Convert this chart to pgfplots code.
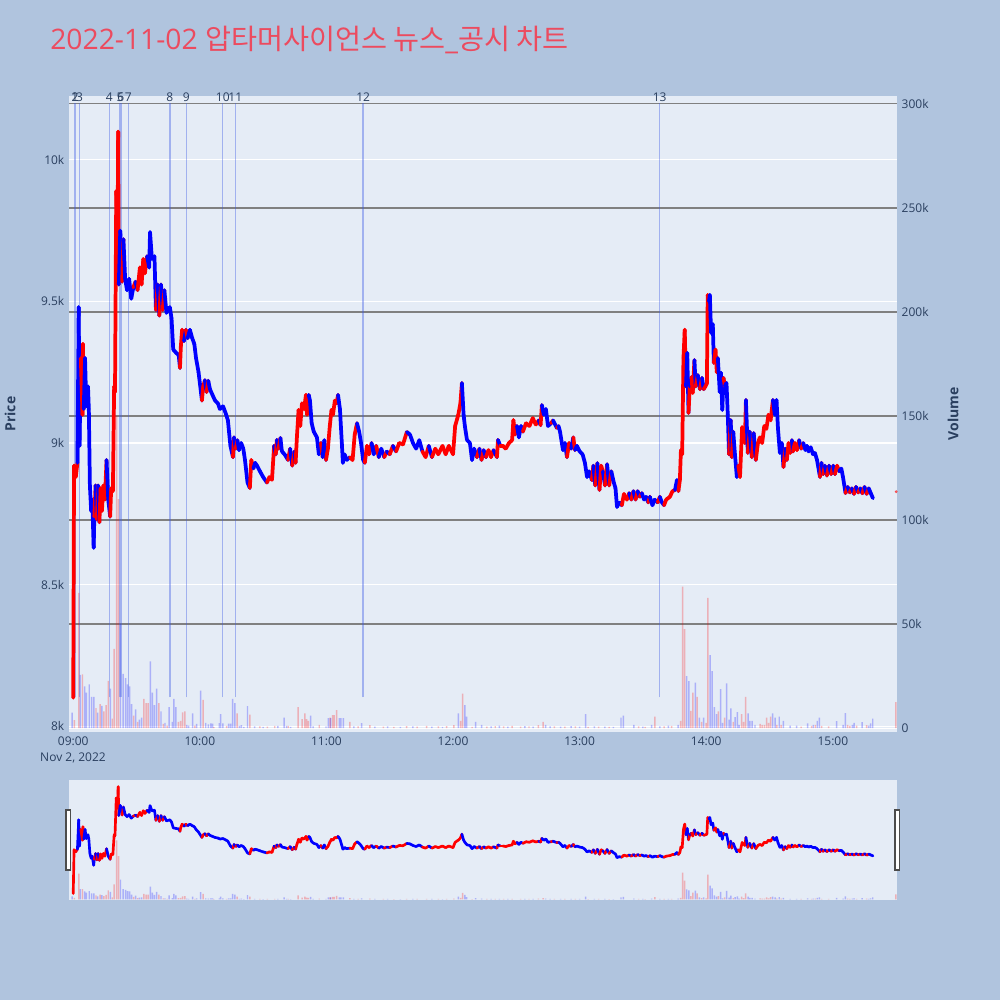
\documentclass[border=0pt]{standalone}
\usepackage{pgfplots}
\pgfplotsset{compat=1.18}
\usepackage{pgfplotstable}
\usepackage{fontspec}
\setmainfont{Open Sans}
\newfontfamily\kr{Noto Sans CJK KR}

\definecolor{paper}{RGB}{176,196,222}
\definecolor{plotbg}{RGB}{229,236,246}
\definecolor{tickcol}{RGB}{42,63,95}
\definecolor{titlecol}{RGB}{236,75,95}
\definecolor{gridgray}{RGB}{128,128,128}
\definecolor{upred}{RGB}{255,0,0}
\definecolor{dnblue}{RGB}{0,0,255}
\definecolor{newsblue}{RGB}{60,90,230}

% minute since 09:00, price, colour of the segment that starts here (1 red, 0 blue)
\pgfplotstableread{
m p c
0 8100 1
0.4 8920 1
1.2 8880 1
2.0 8930 0
2.6 9480 0
3.0 8990 0
3.6 9300 1
4.4 9100 1
4.6 9350 1
5.0 9120 0
5.6 9300 0
6.2 9130 0
7.0 9200 0
7.4 9120 0
7.9 8850 0
8.5 8760 0
9.0 8800 0
9.7 8630 0
10.0 8740 1
10.6 8850 0
11.2 8730 1
11.8 8850 0
12.4 8720 1
13.0 8840 1
13.6 8760 1
14.3 8850 1
15.0 8800 1
15.8 8940 0
16.6 8800 0
17.5 8740 1
18.0 8840 1
18.8 8830 1
19.4 9200 1
19.8 9180 1
20.4 9890 1
21.0 9700 1
21.3 10100 1
21.6 9560 0
22.3 9750 0
23.2 9570 1
23.8 9720 0
24.6 9580 0
25.5 9540 0
26.5 9580 0
27.5 9510 0
28.5 9550 1
29.5 9570 0
30.5 9540 1
31.6 9620 1
32.4 9560 1
33.2 9650 1
34.0 9600 1
35.0 9660 0
36.0 9620 0
36.4 9745 0
37.3 9650 0
38.5 9660 0
39.2 9470 1
40.0 9560 0
40.8 9450 1
41.6 9560 0
42.4 9470 1
43.2 9540 0
44.2 9460 0
45.8 9480 0
46.6 9440 0
47.4 9330 0
48.6 9320 0
50.0 9310 0
50.6 9265 1
51.0 9340 1
51.6 9400 1
52.5 9360 0
53.4 9400 1
54.2 9370 0
55.3 9400 0
56.4 9370 0
57.4 9350 0
58.2 9300 0
59.4 9250 0
61.0 9150 1
61.6 9200 1
62.4 9222 0
63.2 9180 1
64.0 9220 0
64.8 9190 0
66.0 9170 0
67.2 9150 0
68.6 9140 0
69.5 9120 0
71.0 9130 0
72.5 9100 0
73.3 9080 0
74.5 8990 0
75.7 8950 1
76.2 9020 0
77.0 8980 1
77.8 9010 0
78.6 8975 0
79.6 9000 0
80.6 8980 0
81.4 8940 0
82.6 8860 0
83.7 8841 1
84.4 8940 1
85.4 8910 0
86.2 8930 0
87.1 8920 0
88.5 8900 0
90.0 8880 0
91.8 8860 1
93.0 8880 1
94.2 8870 1
95.2 8990 0
96.0 8960 1
96.5 9011 0
97.3 8980 1
98.2 9018 0
98.9 8970 0
100.2 8960 0
101.8 8940 1
102.8 8980 0
103.8 8920 1
104.8 8970 0
105.4 8930 1
106.0 9020 1
106.8 9117 1
107.6 9060 1
108.4 9140 1
109.4 9120 1
110.3 9170 1
110.8 9100 1
111.6 9170 0
112.2 9150 0
113.0 9070 0
114.0 9040 0
115.5 9020 0
116.4 8960 0
117.4 9000 1
118.2 8950 0
119.0 9010 0
119.8 8940 1
120.7 8980 1
121.6 9060 1
122.4 9117 1
123.1 9100 1
124.0 9150 1
124.8 9140 1
125.5 9170 0
126.4 9120 0
127.3 9000 0
127.8 8930 0
128.6 8960 0
129.6 8940 0
131.1 8950 1
132.4 8940 1
133.4 9030 1
134.5 9070 0
135.5 9040 0
136.4 9000 0
137.4 8940 0
138.2 8930 1
139.2 8990 1
140.2 8960 1
141.4 9000 0
142.4 8960 0
143.6 8990 1
144.8 8950 0
146.0 8980 0
147.4 8950 1
148.6 8970 0
150.0 8960 1
151.5 8990 0
153.0 8970 1
154.5 9000 1
156.3 8995 1
158.1 9039 0
159.6 9030 0
161.0 9000 0
162.5 8980 0
164.0 9010 0
165.5 8970 1
167.0 8950 1
168.5 8990 0
170.0 8950 1
171.6 8980 1
173.0 8960 1
175.0 8990 1
176.5 8960 1
178.0 8990 1
180.0 8960 1
181.0 9060 1
182.5 9100 1
183.5 9141 1
184.2 9212 0
185.0 9100 0
185.6 9060 0
186.6 9011 0
188.0 9000 0
189.0 8940 0
190.0 8980 0
191.3 8950 1
192.5 8980 0
193.5 8940 1
194.5 8975 0
195.6 8950 1
196.8 8975 1
198.0 8950 1
199.2 8975 0
200.8 8950 1
201.3 9011 0
202.4 8990 1
203.6 8990 1
205.0 8980 1
206.5 9000 1
208.0 9010 1
208.6 9081 1
209.4 9030 1
210.3 9060 0
211.2 9020 0
212.2 9060 0
213.1 9040 1
214.6 9070 1
216.2 9060 1
217.8 9088 1
219.2 9065 1
220.6 9080 0
221.5 9063 1
222.1 9134 0
223.0 9100 0
224.0 9120 0
225.0 9060 0
226.5 9070 1
227.4 9080 0
229.2 9053 1
230.0 9060 0
230.7 9040 0
232.1 8975 0
233.0 9000 0
234.0 8950 1
235.0 9000 1
236.0 8980 0
237.0 9020 1
237.8 8975 0
238.7 8990 0
240.0 8970 0
241.4 8960 0
242.5 8930 0
243.5 8880 0
244.5 8900 0
245.8 8869 1
246.5 8920 0
247.4 8850 1
248.4 8929 0
249.4 8834 1
250.2 8920 1
251.0 8900 0
252.0 8850 1
253.0 8925 0
254.0 8850 1
255.0 8900 0
256.2 8860 0
257.0 8840 0
257.7 8774 0
258.8 8790 0
260.0 8780 1
261.0 8820 1
262.4 8800 1
263.5 8823 0
264.5 8800 1
265.5 8830 0
266.5 8800 1
267.5 8830 0
268.5 8810 1
269.5 8823 0
270.5 8800 0
271.5 8810 0
272.5 8790 1
273.3 8810 0
274.5 8780 0
275.5 8800 0
277.0 8790 1
278.0 8810 0
279.0 8790 0
280.0 8780 1
281.0 8800 1
282.8 8810 1
284.0 8830 1
285.2 8834 0
286.1 8869 0
286.8 8830 1
287.5 8869 1
288.0 8975 1
288.6 8960 1
289.2 9300 1
289.8 9400 1
290.4 9200 0
291.0 9318 0
291.6 9106 1
292.2 9200 0
293.0 9233 1
293.6 9177 1
294.4 9293 0
295.0 9200 1
296.0 9240 0
297.0 9190 1
298.0 9230 0
298.8 9190 1
299.6 9200 1
300.3 9210 1
300.7 9523 1
301.3 9500 0
301.7 9523 0
302.3 9389 0
303.1 9420 0
303.6 9283 1
304.4 9330 1
305.0 9250 1
305.5 9300 0
306.4 9180 0
307.0 9248 0
307.6 9117 0
308.2 9230 1
308.8 9200 0
309.6 9212 0
310.2 9100 0
310.8 8960 1
311.6 9081 0
312.1 8950 1
312.8 9040 0
313.6 8960 0
314.5 8880 0
315.2 8920 1
316.0 8880 1
317.0 9056 1
318.3 9000 1
318.8 9152 0
319.7 8965 1
320.6 9040 0
321.6 8950 1
322.5 9035 0
323.5 8940 1
324.5 9000 1
325.4 9020 1
326.5 9000 1
327.5 9060 1
328.5 9050 1
329.5 9100 1
330.5 9080 1
331.6 9152 0
332.5 9100 0
333.3 9152 0
334.0 9050 0
334.9 8965 0
335.8 9000 0
336.6 8915 1
337.4 8980 0
338.2 8940 1
339.0 9000 1
339.8 8965 1
340.6 9010 0
341.1 8970 1
342.0 9000 1
343.0 8975 1
344.0 9010 0
345.0 8980 1
346.0 9000 0
347.0 8975 0
347.7 8990 0
348.5 8970 0
349.5 8985 0
350.6 8960 0
351.5 8965 0
352.5 8940 0
353.9 8880 1
354.6 8930 0
355.4 8890 1
356.2 8920 0
357.2 8885 1
358.2 8920 0
359.2 8890 1
360.2 8920 0
361.0 8890 1
362.0 8920 1
363.0 8900 0
364.0 8910 0
364.8 8880 0
366.0 8823 1
367.0 8845 0
368.0 8825 1
369.0 8840 0
370.0 8820 1
371.0 8845 0
372.0 8825 1
373.0 8840 0
374.0 8822 1
375.0 8845 0
376.0 8820 1
377.0 8840 0
378.0 8822 0
379.0 8805 0
}\price

\pgfplotstableread{
m v
0.5 3800
2.7 65000
4.4 25800
10.8 9600
12.7 11500
14.5 8000
15.6 11000
16.6 22700
18.5 4500
19.4 38000
20.6 150000
21.5 110000
28.6 6000
30.5 3000
33.5 14000
34.5 12000
35.5 12000
40.6 12000
42.7 2000
44.5 1200
49.8 3000
50.9 3500
51.8 7500
52.9 8000
57.7 1200
61.6 13500
66.7 500
72.7 1000
77.7 7000
83.7 6500
88.5 800
92.0 700
95.5 1000
101.9 1000
106.6 10000
108.5 4300
109.8 7000
110.6 4300
111.4 3500
116.6 1500
121.7 5000
122.9 6200
123.6 6200
124.8 8600
131.1 3000
135.0 800
140.6 1400
147.0 700
152.0 600
158.0 900
163.0 700
167.5 1000
173.0 800
177.0 900
180.4 1400
183.6 3500
184.5 16500
189.0 600
196.0 700
200.0 900
204.0 800
208.0 1000
212.0 700
216.0 800
220.4 1400
222.7 3000
228.0 800
233.0 700
238.0 800
244.0 600
249.0 700
254.0 600
268.0 800
271.0 600
275.7 5500
280.0 800
283.6 1000
287.9 3500
288.8 68000
289.8 47600
292.7 8200
293.7 17000
295.7 15000
297.8 3000
299.9 2500
300.8 62600
305.7 8000
308.7 5000
312.8 3000
316.8 6700
317.7 3000
318.7 15000
325.5 2000
326.5 1500
327.5 1500
328.6 5000
329.6 2500
330.5 5500
333.5 1500
335.5 1500
345.0 700
349.9 1000
351.7 1500
354.7 1000
358.0 800
367.0 1500
368.1 1000
371.3 1200
376.0 1400
389.9 12400
}\volup

\pgfplotstableread{
m v
-0.5 7400
3.4 25500
5.4 20000
6.2 17000
7.6 21000
8.7 15000
9.8 15000
11.6 7400
13.6 10600
17.6 19000
22.4 50000
23.7 26000
24.8 24000
25.8 21000
26.7 20000
27.7 11500
29.6 9000
31.4 4000
32.4 5000
36.6 32000
37.5 17000
38.5 11000
39.5 19000
41.6 8000
43.5 2500
45.5 10000
47.0 3000
47.7 14000
48.7 10000
53.8 1500
54.7 1200
56.6 7000
58.5 2000
60.4 18000
62.8 2500
64.0 1800
65.2 2200
66.1 2100
69.2 2400
69.9 6700
70.9 2200
73.6 2100
74.6 2100
75.5 14000
76.6 12000
78.7 1000
79.7 1400
80.9 600
82.6 10500
86.0 800
90.0 600
97.0 1000
100.0 5000
101.1 1000
103.0 600
112.5 6000
113.7 800
119.8 800
120.9 4800
122.0 4800
126.1 4800
126.9 4800
128.0 4800
133.0 800
136.7 2400
143.0 700
149.0 800
155.0 600
161.0 800
170.0 700
175.0 600
182.5 7000
185.6 11000
186.4 5500
190.7 3000
193.5 1500
198.0 800
202.0 1200
206.0 700
214.0 900
218.0 700
223.9 1500
226.0 800
231.0 700
236.0 900
240.0 700
242.8 6700
247.0 800
252.0 700
256.0 600
259.6 5000
260.7 6000
265.7 1500
270.0 700
274.1 1500
278.0 800
282.0 1200
286.7 1500
290.7 25000
291.8 22600
294.8 21800
296.7 5000
298.8 5000
301.8 35000
302.8 27400
303.8 10000
304.9 6700
306.8 18700
307.8 2500
309.7 21500
310.8 4000
311.7 9500
313.7 5300
314.7 7600
315.6 1500
319.8 7000
320.7 3500
321.7 3500
323.1 1500
331.5 7000
332.6 5000
334.6 5500
336.5 3500
339.7 1200
342.8 1200
348.0 2200
350.7 1500
352.6 3500
353.6 5000
361.8 3300
364.9 1500
365.9 7200
369.2 1500
370.1 2500
373.9 2800
377.0 1200
377.9 2200
378.9 4500
}\voldown

\pgfplotsset{
  mainbox/.style={at={(51.75pt,201pt)}, anchor=south west, scale only axis,
    width=621pt, height=477pt, xmin=-2, xmax=390.4},
  slidebox/.style={at={(51.75pt,75pt)}, anchor=south west, scale only axis,
    width=621pt, height=90pt, xmin=-2, xmax=390.4},
  ticktext/.style={tick label style={font=\fontsize{9}{10}\selectfont, text=tickcol}},
  volbar/.style={ybar, bar width=1.1pt, bar shift=0pt, draw=none, fill=#1, fill opacity=0.25},
  candle/.style={mesh, shader=flat corner, point meta=explicit,
    line width=#1, line cap=round, line join=round},
}

\begin{document}
\begin{tikzpicture}
\fill[paper] (0,0) rectangle (750pt,750pt);
\path[use as bounding box] (0,0) rectangle (750pt,750pt);

% price grid and left ticks
\begin{axis}[mainbox, ymin=7979, ymax=10226, ticktext,
  axis background/.style={fill=plotbg},
  axis line style={draw=none}, major tick length=0pt,
  scaled ticks=false,
  xtick={0,60,120,180,240,300,360},
  xticklabels={09:00,10:00,11:00,12:00,13:00,14:00,15:00},
  ytick={8000,8500,9000,9500,10000},
  yticklabels={8k,8.5k,9k,9.5k,10k},
  ymajorgrids, grid style={white, line width=0.8pt}]
\addplot[draw=none] coordinates {(0,8000)};
\end{axis}

% volume
\begin{axis}[mainbox, ymin=-1900, ymax=303800, ticktext,
  axis y line*=right, axis x line=none,
  axis line style={draw=none}, major tick length=0pt,
  xtick=\empty, scaled ticks=false,
  ytick={50000,100000,150000,200000,250000,300000},
  yticklabels={50k,100k,150k,200k,250k,300k},
  extra y ticks={0}, extra y tick labels={0},
  extra y tick style={grid style={white, line width=0.8pt}},
  ymajorgrids, grid style={gridgray, line width=0.9pt}]
\addplot[volbar=upred] table[x=m, y=v] {\volup};
\addplot[volbar=dnblue] table[x=m, y=v] {\voldown};
\end{axis}

% price candles and news lines
\begin{axis}[mainbox, ymin=7979, ymax=10226, hide axis, clip=false,
  colormap={rb}{color=(dnblue) color=(upred)},
  point meta min=0, point meta max=1]
\addplot[newsblue, opacity=0.4, line width=1pt, unbounded coords=jump] coordinates {
  (0.7,8102) (0.7,10200) (0.7,nan)
  (0.9,8102) (0.9,10200) (0.9,nan)
  (3.0,8102) (3.0,10200) (3.0,nan)
  (17.1,8102) (17.1,10200) (17.1,nan)
  (22.2,8102) (22.2,10200) (22.2,nan)
  (22.6,8102) (22.6,10200) (22.6,nan)
  (26.1,8102) (26.1,10200) (26.1,nan)
  (45.8,8102) (45.8,10200) (45.8,nan)
  (53.6,8102) (53.6,10200) (53.6,nan)
  (70.9,8102) (70.9,10200) (70.9,nan)
  (76.8,8102) (76.8,10200) (76.8,nan)
  (137.4,8102) (137.4,10200) (137.4,nan)
  (277.9,8102) (277.9,10200)
};
\addplot[candle=2.8pt] table[x=m, y=p, meta=c] {\price};
\addplot[only marks, mark=*, mark size=0.9pt, color=upred, opacity=0.5] coordinates {(390,8828)};
\foreach \xx/\lab in {0.7/1, 0.9/2, 3.0/3, 17.1/4, 22.6/6, 22.2/5, 26.1/7, 45.8/8, 53.6/9, 70.9/10, 76.8/11, 137.4/12, 277.9/13}{
  \edef\temp{\noexpand\node[anchor=base, inner sep=0pt, text=tickcol, font=\noexpand\fontsize{9}{10}\noexpand\selectfont] at (axis cs:\xx,10200) [yshift=1.3pt] {\lab};}
  \temp
}
\end{axis}

% range slider
\begin{axis}[slidebox, ymin=-1900, ymax=303800,
  axis background/.style={fill=plotbg},
  axis line style={draw=none}, xtick=\empty, ytick=\empty]
\addplot[volbar=upred] table[x=m, y=v] {\volup};
\addplot[volbar=dnblue] table[x=m, y=v] {\voldown};
\end{axis}
\begin{axis}[slidebox, ymin=7979, ymax=10226, hide axis,
  colormap={rb}{color=(dnblue) color=(upred)},
  point meta min=0, point meta max=1]
\addplot[candle=2pt] table[x=m, y=p, meta=c] {\price};
\end{axis}
\draw[fill=white, draw=black!70, line width=0.8pt] (49.5pt,97.5pt) rectangle (53pt,142.5pt);
\draw[fill=white, draw=black!70, line width=0.8pt] (671.25pt,97.5pt) rectangle (674.5pt,142.5pt);

% texts
\node[anchor=west, inner sep=0pt, text=titlecol, font=\fontsize{21.2}{25}\selectfont]
  at (37.5pt,720pt) {2022-11-02 {\kr 압타머사이언스 뉴스}\_{\kr 공시 차트}};
\node[text=tickcol, font=\fontsize{9}{10}\selectfont] at (54.75pt,181.5pt) {Nov 2, 2022};
\node[rotate=90, text=tickcol, font=\bfseries\fontsize{10.5}{12}\selectfont] at (7.5pt,439.5pt) {Price};
\node[rotate=90, text=tickcol, font=\bfseries\fontsize{10.5}{12}\selectfont] at (714.75pt,439.5pt) {Volume};
\end{tikzpicture}
\end{document}
